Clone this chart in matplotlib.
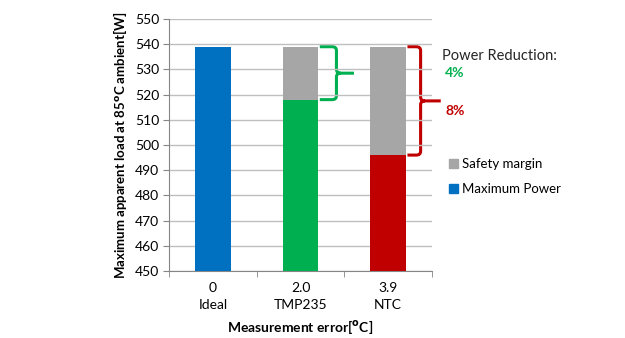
import matplotlib
matplotlib.use('Agg')
import matplotlib.pyplot as plt
from matplotlib.path import Path
from matplotlib.patches import PathPatch, Patch

plt.rcParams['font.family'] = ['Lato', 'DejaVu Sans']

# 데이터
categories = ['0\nIdeal', '2.0\nTMP235', '3.9\nNTC']
max_power = [539, 518, 496]
safety_top = [539, 539, 539]
bar_colors = ['#0070C0', '#00B050', '#C00000']
reductions = ['4%', '8%']


def draw_brace(ax, x0, xv, xp, ytop, ybot, color):
    """오른쪽을 향한 중괄호 그리기"""
    ymid = (ytop + ybot) / 2
    rx, ry = 0.05, 1.5
    verts = [
        (x0, ytop), (xv - rx, ytop), (xv, ytop), (xv, ytop - ry),
        (xv, ymid + ry), (xv, ymid), (xv + rx, ymid), (xp, ymid),
        (xv + rx, ymid), (xv, ymid), (xv, ymid - ry),
        (xv, ybot + ry), (xv, ybot), (xv - rx, ybot), (x0, ybot),
    ]
    codes = [
        Path.MOVETO, Path.LINETO, Path.CURVE3, Path.CURVE3,
        Path.LINETO, Path.CURVE3, Path.CURVE3, Path.LINETO,
        Path.MOVETO, Path.CURVE3, Path.CURVE3,
        Path.LINETO, Path.CURVE3, Path.CURVE3, Path.LINETO,
    ]
    patch = PathPatch(Path(verts, codes), facecolor='none', edgecolor=color,
                      lw=2.2, clip_on=False, capstyle='butt')
    ax.add_patch(patch)


fig = plt.figure(figsize=(6.25, 3.38), dpi=100)
ax = fig.add_axes([0.2704, 0.1982, 0.4208, 0.7456])

x = range(len(categories))
bw = 0.41
# 안전 여유 (회색)
ax.bar(x, [t - m for t, m in zip(safety_top, max_power)], bottom=max_power,
       width=bw, color='#A6A6A6', zorder=3)
ax.bar(x, [m - 450 for m in max_power], bottom=450, width=bw,
       color=bar_colors, zorder=3)

ax.set_xlim(-0.5, 2.5)
ax.set_ylim(450, 550)
ax.set_yticks(range(450, 551, 10))
ax.set_xticks(list(x))
ax.set_xticklabels(categories, fontsize=10, linespacing=1.45)
ax.set_xticks([-0.5, 0.5, 1.5, 2.5], minor=True)
ax.tick_params(axis='x', which='major', length=0, pad=8)
ax.tick_params(axis='x', which='minor', length=4, color='#868686')
ax.tick_params(axis='y', length=4, color='#868686', labelsize=10, pad=3)
ax.grid(axis='y', color='#BFBFBF', lw=1, zorder=0)
for s in ['top', 'right']:
    ax.spines[s].set_visible(False)
for s in ['left', 'bottom']:
    ax.spines[s].set_color('#868686')

ax.set_xlabel(r'Measurement error[$^{\mathbf{o}}$C]', fontsize=10,
              fontweight='bold', labelpad=5)
ax.set_ylabel(r'Maximum apparent load at 85$^{\mathbf{o}}$C ambient[W]',
              fontsize=9.5, fontweight='bold', labelpad=4)

draw_brace(ax, 1.22, 1.41, 1.61, safety_top[1], max_power[1], '#00B050')
draw_brace(ax, 2.22, 2.37, 2.6, safety_top[2], max_power[2], '#C00000')

ax.text(2.61, 535.3, 'Power Reduction:', fontsize=10.5, color='#262626',
        va='center', ha='left', clip_on=False)
ax.text(2.65, 528.6, reductions[0], fontsize=10, color='#00B050',
        fontweight='bold', va='center', ha='left')
ax.text(2.65, 513.6, reductions[1], fontsize=10, color='#C00000',
        fontweight='bold', va='center', ha='left')

handles = [Patch(color='#A6A6A6', label='Safety margin'),
           Patch(color='#0070C0', label='Maximum Power')]
ax.legend(handles=handles, loc='upper left', bbox_to_anchor=(1.045, 0.47),
          frameon=False, fontsize=9.5, handlelength=0.7, handleheight=0.7,
          handletextpad=0.3, labelspacing=1.0, borderaxespad=0)

fig.savefig('out.png', dpi=100)
